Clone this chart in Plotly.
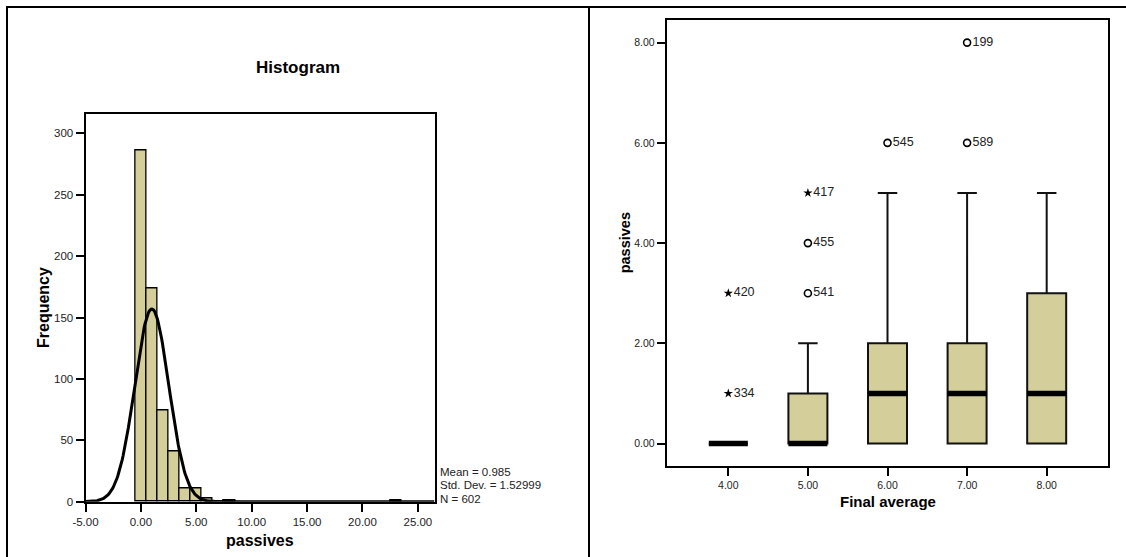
import numpy as np
import plotly.graph_objects as go

W, H = 1126, 557

# ---------------- Histogram data ----------------
bin_centers = [0, 1, 2, 3, 4, 5, 6, 8, 23]
bin_counts = [286, 174, 74, 41, 11, 11, 3, 1, 1]
bin_width = 1.0
hist_xticks = [-5, 0, 5, 10, 15, 20, 25]
hist_xtick_labels = ["-5.00", "0.00", "5.00", "10.00", "15.00", "20.00", "25.00"]
hist_yticks = [0, 50, 100, 150, 200, 250, 300]
stat_mean = 0.985
stat_sd = 1.52999
stat_n = 602

# ---------------- Boxplot data ----------------
box_cats = [4, 5, 6, 7, 8]
box_cat_labels = ["4.00", "5.00", "6.00", "7.00", "8.00"]
box_q1 = [0, 0, 0, 0, 0]
box_median = [0, 0, 1, 1, 1]
box_q3 = [0, 1, 2, 2, 3]
box_low = [0, 0, 0, 0, 0]
box_high = [0, 2, 5, 5, 5]
mild_x = [5, 5, 6, 7, 7]
mild_y = [3, 4, 6, 6, 8]
mild_ids = ["541", "455", "545", "589", "199"]
ext_x = [4, 4, 5]
ext_y = [1, 3, 5]
ext_ids = ["334", "420", "417"]
box_yticks = [0, 2, 4, 6, 8]
box_ytick_labels = ["0.00", "2.00", "4.00", "6.00", "8.00"]

FILL = "#D3CE9A"
FONT = "Liberation Sans, Arial, sans-serif"
TICKC = "#222222"


def px(x):
    return x / W


def py(y):
    return 1 - y / H


fig = go.Figure()

# histogram bars
fig.add_trace(go.Bar(
    x=bin_centers, y=bin_counts, width=bin_width,
    marker=dict(color=FILL, line=dict(color="black", width=1.3)),
    xaxis="x", yaxis="y", showlegend=False, hoverinfo="x+y"))

# fitted normal curve from stated mean / sd / N
xc = np.linspace(-5, 26.5, 400)
yc = stat_n * bin_width * np.exp(-0.5 * ((xc - stat_mean) / stat_sd) ** 2) / (stat_sd * np.sqrt(2 * np.pi))
fig.add_trace(go.Scatter(x=xc, y=yc, mode="lines", line=dict(color="black", width=3),
                         xaxis="x", yaxis="y", showlegend=False, hoverinfo="skip"))

# boxplot
fig.add_trace(go.Box(
    x=box_cats, q1=box_q1, median=box_median, q3=box_q3,
    lowerfence=box_low, upperfence=box_high,
    width=0.49, whiskerwidth=0.5, boxpoints=False,
    fillcolor=FILL, line=dict(color="#111111", width=2),
    xaxis="x2", yaxis="y2", showlegend=False))

# thick median bars
mx, my = [], []
for c, m in zip(box_cats, box_median):
    mx += [c - 0.245, c + 0.245, None]
    my += [m, m, None]
fig.add_trace(go.Scatter(x=mx, y=my, mode="lines", line=dict(color="black", width=5.5),
                         xaxis="x2", yaxis="y2", showlegend=False, hoverinfo="skip"))

# outliers
fig.add_trace(go.Scatter(
    x=mild_x, y=mild_y, mode="markers+text", text=mild_ids, textposition="middle right",
    marker=dict(symbol="circle-open", size=7, color="black", line=dict(width=1.6)),
    textfont=dict(family=FONT, size=12.5, color=TICKC),
    xaxis="x2", yaxis="y2", showlegend=False))
fig.add_trace(go.Scatter(
    x=ext_x, y=ext_y, mode="markers+text", text=ext_ids, textposition="middle right",
    marker=dict(symbol="star", size=7, color="black", line=dict(width=0)),
    textfont=dict(family=FONT, size=12.5, color=TICKC),
    xaxis="x2", yaxis="y2", showlegend=False))

axis_common = dict(showline=True, mirror=True, linecolor="black", linewidth=2,
                   ticks="outside", ticklen=8, tickwidth=1.5, tickcolor="black",
                   showgrid=False, zeroline=False, automargin=False)

fig.update_layout(
    width=W, height=H, margin=dict(l=0, r=0, t=0, b=0, pad=0, autoexpand=False),
    paper_bgcolor="white", plot_bgcolor="white", showlegend=False,
    font=dict(family=FONT, color=TICKC),
    xaxis=dict(domain=[px(85.5), px(434.5)], range=[-5, 26.5],
               tickvals=hist_xticks, ticktext=hist_xtick_labels,
               tickfont=dict(size=11.5, color=TICKC), anchor="y", **axis_common),
    yaxis=dict(domain=[py(501.7), py(114.4)], range=[0, 315.4],
               tickvals=hist_yticks, tickfont=dict(size=11.5, color=TICKC),
               anchor="x", **axis_common),
    xaxis2=dict(domain=[px(666.7), px(1108.3)], range=[3.226, 8.774],
                tickvals=box_cats, ticktext=box_cat_labels,
                tickfont=dict(size=10.5, color=TICKC), anchor="y2", **axis_common),
    yaxis2=dict(domain=[py(466), py(20.2)], range=[-0.447, 8.447],
                tickvals=box_yticks, ticktext=box_ytick_labels,
                tickfont=dict(size=10.5, color=TICKC), anchor="x2", **axis_common),
    bargap=0,
)

ann = []


def A(text, x, y, size, bold=False, angle=0, xanchor="center", yanchor="middle", color="black"):
    ann.append(dict(text=("<b>%s</b>" % text) if bold else text, x=px(x), y=py(y),
                    xref="paper", yref="paper", showarrow=False, textangle=angle,
                    xanchor=xanchor, yanchor=yanchor,
                    font=dict(family=FONT, size=size, color=color)))


A("Histogram", 298, 67.5, 17, bold=True)
A("Frequency", 43, 308, 16, bold=True, angle=-90)
A("passives", 260, 540, 16, bold=True)
A("Mean = %.3f" % stat_mean, 437.5, 471.7, 11.5, xanchor="left", color=TICKC)
A("Std. Dev. = %.5f" % stat_sd, 437.5, 485.3, 11.5, xanchor="left", color=TICKC)
A("N = %d" % stat_n, 437.5, 499, 11.5, xanchor="left", color=TICKC)
A("passives", 624.7, 242.6, 14.5, bold=True, angle=-90)
A("Final average", 888, 501, 15, bold=True)
fig.update_layout(annotations=ann)

# table-like frame lines
fig.update_layout(shapes=[
    dict(type="line", xref="paper", yref="paper", x0=px(6), x1=1, y0=py(7), y1=py(7),
         line=dict(color="black", width=2)),
    dict(type="line", xref="paper", yref="paper", x0=px(7), x1=px(7), y0=py(6), y1=0,
         line=dict(color="black", width=2)),
    dict(type="line", xref="paper", yref="paper", x0=px(589), x1=px(589), y0=py(6), y1=0,
         line=dict(color="black", width=2)),
])

fig.write_html(
    "out.html",
    config={"responsive": False, "displayModeBar": False},
    post_script="document.body.style.margin='0';document.body.style.padding='0';"
                "document.body.style.overflow='hidden';",
)
